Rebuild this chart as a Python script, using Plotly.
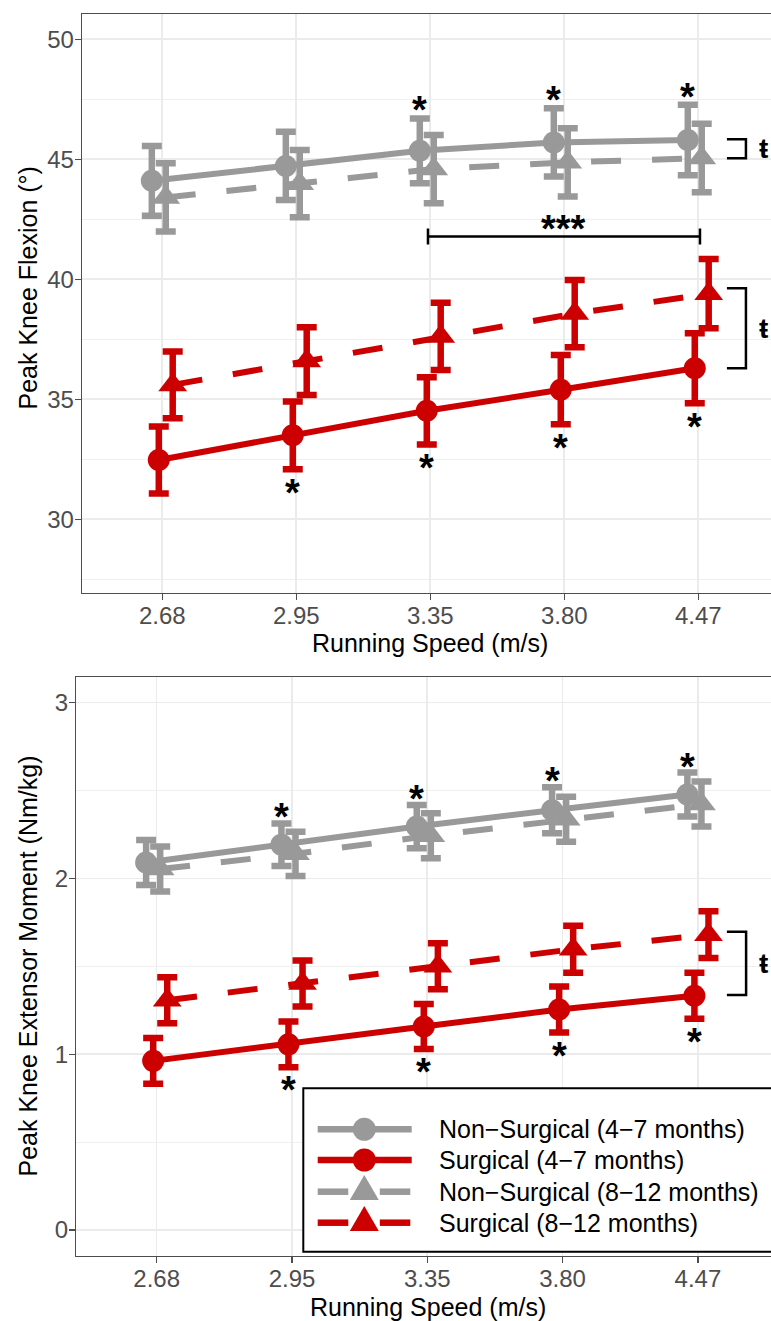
import plotly.graph_objects as go

W, H = 771, 1321

# ---------------- data ----------------
speeds = ["2.68", "2.95", "3.35", "3.80", "4.47"]
groups = ["Non−Surgical (4−7 months)", "Surgical (4−7 months)",
          "Non−Surgical (8−12 months)", "Surgical (8−12 months)"]

# Peak knee flexion (deg): mean and error
flex_ns_47 = [44.10, 44.72, 45.35, 45.70, 45.80]
flex_ns_47_err = [1.45, 1.42, 1.35, 1.42, 1.47]
flex_s_47 = [32.47, 33.50, 34.52, 35.40, 36.29]
flex_s_47_err = [1.40, 1.41, 1.40, 1.44, 1.46]
flex_ns_812 = [43.41, 43.98, 44.59, 44.87, 45.05]
flex_ns_812_err = [1.42, 1.40, 1.42, 1.42, 1.43]
flex_s_812 = [35.60, 36.59, 37.62, 38.57, 39.40]
flex_s_812_err = [1.39, 1.41, 1.40, 1.40, 1.44]

# Peak knee extensor moment (Nm/kg): mean and error
mom_ns_47 = [2.090, 2.192, 2.295, 2.388, 2.477]
mom_ns_47_err = [0.128, 0.121, 0.123, 0.131, 0.125]
mom_s_47 = [0.962, 1.056, 1.157, 1.254, 1.333]
mom_s_47_err = [0.130, 0.130, 0.128, 0.131, 0.131]
mom_ns_812 = [2.053, 2.140, 2.243, 2.337, 2.423]
mom_ns_812_err = [0.128, 0.126, 0.128, 0.128, 0.128]
mom_s_812 = [1.307, 1.402, 1.500, 1.597, 1.680]
mom_s_812_err = [0.131, 0.131, 0.131, 0.133, 0.133]

# significance marks (indices of speeds)
flex_star_above_ns47 = [2, 3, 4]
flex_star_below_s47 = [1, 2, 3, 4]
mom_star_above_ns47 = [1, 2, 3, 4]
mom_star_below_s47 = [1, 2, 3, 4]

# "***" comparison between speeds 3.35 and 4.47 (flexion), at this level
flex_triple_star_y = 41.78
# right-hand brackets (y extents) marked with "ŧ"
flex_bracket_grey = [45.83, 45.04]
flex_bracket_red = [39.63, 36.29]
mom_bracket_red = [1.697, 1.337]

# ---------------- style ----------------
GREY = "#999999"
RED = "#CC0000"
FONT = "Liberation Sans, Arial, sans-serif"
TICKC = "#4D4D4D"
GRIDC = "#EBEBEB"
AXC = "#4D4D4D"

colors = [GREY, RED, GREY, RED]
symbols = ["circle", "circle", "triangle-up", "triangle-up"]
msizes = [22, 22, 25, 25]
dashes = ["solid", "solid", "30px,31px", "30px,31px"]
dodge = [-0.078, -0.026, 0.026, 0.078]


def px_x(x):
    return x / W


def px_y(y):
    return 1 - y / H


fig = go.Figure()

panels = [
    ("x", "y", [flex_ns_47, flex_s_47, flex_ns_812, flex_s_812],
     [flex_ns_47_err, flex_s_47_err, flex_ns_812_err, flex_s_812_err]),
    ("x2", "y2", [mom_ns_47, mom_s_47, mom_ns_812, mom_s_812],
     [mom_ns_47_err, mom_s_47_err, mom_ns_812_err, mom_s_812_err]),
]

for xa, ya, means, errs in panels:
    for g in range(4):
        fig.add_trace(go.Scatter(
            x=[i + 1 + dodge[g] for i in range(len(speeds))],
            y=means[g],
            mode="lines+markers",
            name=groups[g],
            showlegend=False,
            hoverinfo="skip",
            line=dict(color=colors[g], width=6, dash=dashes[g]),
            marker=dict(color=colors[g], symbol=symbols[g], size=msizes[g]),
            error_y=dict(type="data", array=errs[g], color=colors[g],
                         thickness=6.5, width=10),
            xaxis=xa, yaxis=ya,
        ))

annotations = []
shapes = []

STAR_FONT = dict(family=FONT, size=38, color="black", weight="bold")


def star(xref, yref, x, y, yshift):
    annotations.append(dict(x=x, y=y, xref=xref, yref=yref, text="*",
                            xanchor="center", yanchor="middle",
                            showarrow=False, font=STAR_FONT, yshift=yshift))


for i in flex_star_above_ns47:
    star("x", "y", i + 1 + dodge[0], flex_ns_47[i] + flex_ns_47_err[i], 8)
for i in flex_star_below_s47:
    star("x", "y", i + 1 + dodge[1], flex_s_47[i] - flex_s_47_err[i], -24)
for i in mom_star_above_ns47:
    star("x2", "y2", i + 1 + dodge[0], mom_ns_47[i] + mom_ns_47_err[i], 6)
for i in mom_star_below_s47:
    star("x2", "y2", i + 1 + dodge[1], mom_s_47[i] - mom_s_47_err[i], -23)

# *** bracket (top panel)
bx0, bx1, tk = 2.983, 5.013, 0.33
yb = flex_triple_star_y
shapes.append(dict(type="path", xref="x", yref="y",
                   path=f"M{bx0},{yb - tk} L{bx0},{yb + tk} M{bx0},{yb} L{bx1},{yb} "
                        f"M{bx1},{yb - tk} L{bx1},{yb + tk}",
                   line=dict(color="black", width=2.5)))
annotations.append(dict(x=(bx0 + bx1) / 2, y=yb, xref="x", yref="y", text="***",
                        xanchor="center", yanchor="middle",
                        showarrow=False, font=STAR_FONT, yshift=8))

# right brackets with ŧ
rx0, rx1, tx = 5.214, 5.356, 5.44
for xref, yref, (ya, yb2) in [("x", "y", flex_bracket_grey), ("x", "y", flex_bracket_red),
                              ("x2", "y2", mom_bracket_red)]:
    shapes.append(dict(type="path", xref=xref, yref=yref,
                       path=f"M{rx0},{ya} L{rx1},{ya} L{rx1},{yb2} L{rx0},{yb2}",
                       line=dict(color="black", width=2.5)))
    annotations.append(dict(x=tx, y=(ya + yb2) / 2, xref=xref, yref=yref, text="ŧ",
                            xanchor="left", yanchor="middle", showarrow=False,
                            font=dict(family=FONT, size=28, color="black", weight="bold")))

# axis titles
TITLE_FONT = dict(family=FONT, size=25, color="black")


def ptext(x, y, text, font, **kw):
    d = dict(x=px_x(x), y=px_y(y), xref="paper", yref="paper", text=text,
             showarrow=False, font=font, xanchor="center", yanchor="middle")
    d.update(kw)
    annotations.append(d)


ptext(430, 643, "Running Speed (m/s)", TITLE_FONT)
ptext(428, 1307, "Running Speed (m/s)", TITLE_FONT)
ptext(27, 288.5, "Peak Knee Flexion (°)", TITLE_FONT, textangle=-90)
ptext(27, 966.5, "Peak Knee Extensor Moment (Nm/kg)", TITLE_FONT, textangle=-90)

# custom legend
LX0, LY0, LX1, LY1 = 303.3, 1088.3, 785, 1251.7
shapes.append(dict(type="rect", xref="paper", yref="paper",
                   x0=px_x(LX0), x1=px_x(LX1), y0=px_y(LY1), y1=px_y(LY0),
                   line=dict(color="black", width=2), fillcolor="white"))
row_y = [1129.3, 1160.0, 1191.7, 1222.7]
mx = 364.3
for g in range(4):
    ry = row_y[g]
    if dashes[g] == "solid":
        segs = [(317.7, 411.7)]
    else:
        segs = [(317.7, 348.3), (379.8, 410.3)]
    for a, b in segs:
        shapes.append(dict(type="line", xref="paper", yref="paper",
                           x0=px_x(a), x1=px_x(b), y0=px_y(ry), y1=px_y(ry),
                           line=dict(color=colors[g], width=6.5)))
    if symbols[g] == "circle":
        r = 11.5
        shapes.append(dict(type="circle", xref="paper", yref="paper",
                           x0=px_x(mx - r), x1=px_x(mx + r), y0=px_y(ry + r), y1=px_y(ry - r),
                           fillcolor=colors[g], line=dict(width=0)))
    else:
        hw, top, bot = 14.5, 16.7, 8.3
        shapes.append(dict(type="path", xref="paper", yref="paper",
                           path=f"M{px_x(mx - hw)},{px_y(ry + bot)} L{px_x(mx + hw)},{px_y(ry + bot)} "
                                f"L{px_x(mx)},{px_y(ry - top)} Z",
                           fillcolor=colors[g], line=dict(width=0)))
    ptext(436.7, ry, groups[g], dict(family=FONT, size=25, color="black"), xanchor="left")

common_x = dict(tickvals=[1, 2, 3, 4, 5], ticktext=speeds, showgrid=True,
                gridcolor=GRIDC, gridwidth=1.6, zeroline=False, showline=True,
                mirror=True, linecolor=AXC, linewidth=1.3, ticks="outside",
                ticklen=6, tickwidth=1.3, tickcolor=AXC, automargin=False,
                ticklabelstandoff=-5, fixedrange=True,
                tickfont=dict(family=FONT, size=24, color=TICKC))
common_y = dict(showgrid=True, gridcolor=GRIDC, gridwidth=1.6, zeroline=False,
                showline=True, mirror=False, linecolor=AXC, linewidth=1.3,
                ticks="outside", ticklen=6, tickwidth=1.3, tickcolor=AXC, automargin=False,
                ticklabelstandoff=-4, fixedrange=True,
                tickfont=dict(family=FONT, size=24, color=TICKC))

fig.update_layout(
    width=W, height=H,
    margin=dict(l=0, r=0, t=0, b=0, autoexpand=False),
    paper_bgcolor="white", plot_bgcolor="white",
    showlegend=False,
    hovermode=False,
    xaxis=dict(domain=[82 / W, 1], range=[0.401, 5.543], anchor="y", **common_x),
    yaxis=dict(domain=[px_y(593), px_y(14)], range=[26.93, 51.05], anchor="x",
               tick0=0, dtick=5,
               minor=dict(dtick=2.5, tick0=0, showgrid=True, gridcolor=GRIDC, gridwidth=0.8),
               **common_y),
    xaxis2=dict(domain=[76.3 / W, 1], range=[0.406, 5.540], anchor="y2", **common_x),
    yaxis2=dict(domain=[px_y(1256), px_y(677.3)], range=[-0.148, 3.144], anchor="x2",
                tick0=0, dtick=1,
                minor=dict(dtick=0.5, tick0=0, showgrid=True, gridcolor=GRIDC, gridwidth=0.8),
                **common_y),
    shapes=shapes,
    annotations=annotations,
)

fig.write_html(
    "out.html",
    config={"displayModeBar": False, "staticPlot": True},
    post_script="document.body.style.margin='0';document.body.style.overflow='hidden';",
)
